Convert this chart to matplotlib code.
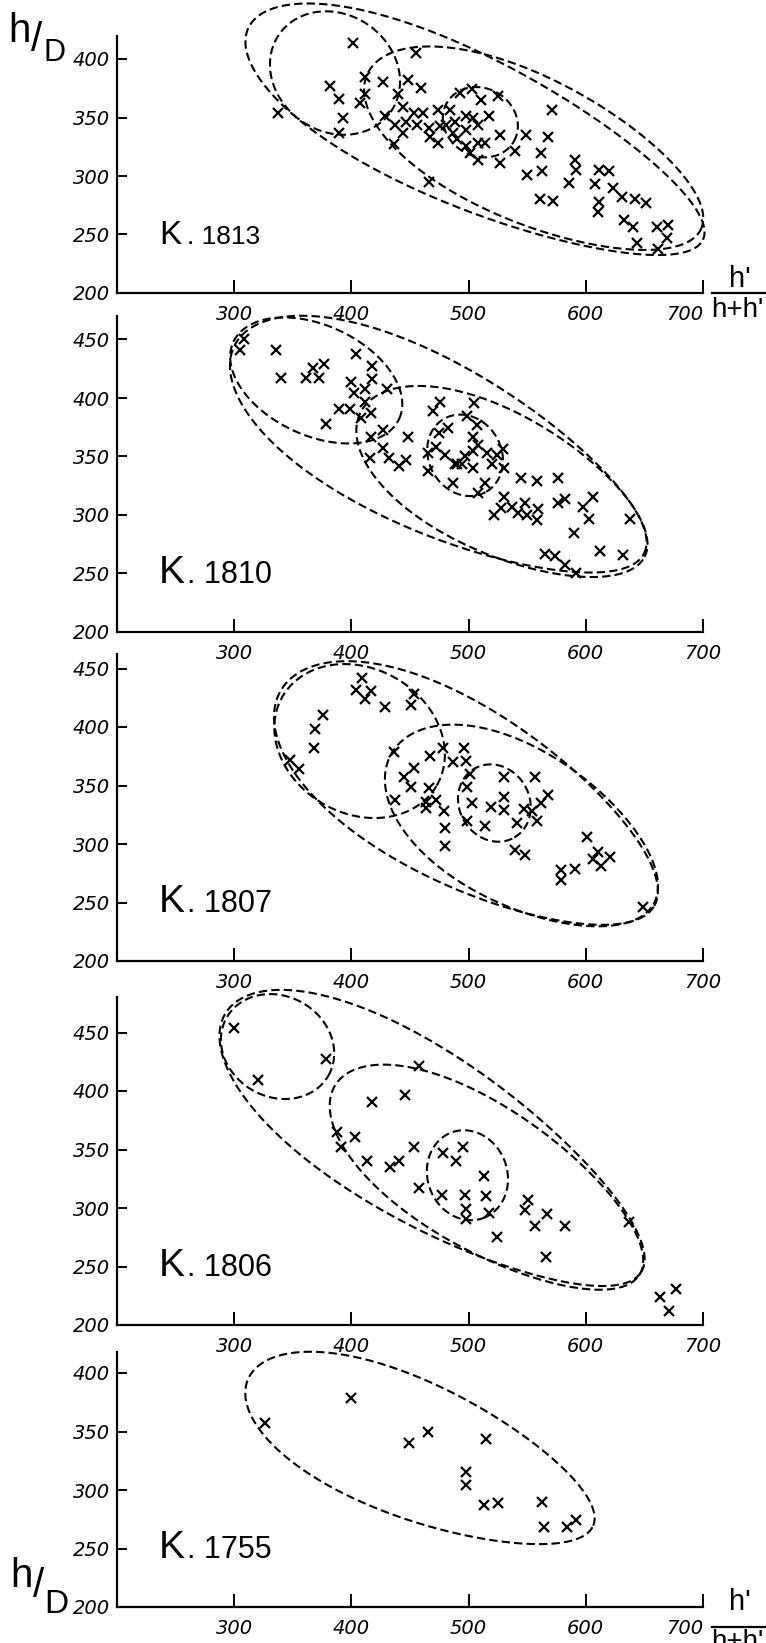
import numpy as np
import matplotlib
matplotlib.use("Agg")
import matplotlib.pyplot as plt
from matplotlib.lines import Line2D

# x = h'/(h+h') (x1000), y = h/D (x1000)
k1813_x = [401, 337, 382, 389, 393, 389, 412, 412, 407, 427, 440, 448, 444, 429, 437, 444, 436, 447, 453, 456, 455,
           459, 461, 466, 467, 474, 484, 476, 481, 488, 474, 487, 493, 503, 511, 525, 498, 504, 508, 517, 498, 490,
           498, 501, 508, 514, 508, 527, 527, 540, 549, 571, 568, 562, 550, 563, 591, 592, 586, 561, 572, 611, 620,
           608, 623, 631, 642, 651, 611, 610, 633, 640, 644, 661, 670, 669, 662, 466]
k1813_y = [414, 354, 377, 366, 350, 337, 385, 370, 362, 380, 370, 382, 359, 351, 344, 337, 327, 346, 354, 344, 405,
           375, 354, 341, 333, 356, 356, 343, 344, 346, 328, 337, 371, 374, 365, 368, 351, 350, 344, 351, 339, 332,
           326, 320, 328, 328, 314, 335, 311, 321, 335, 356, 333, 320, 301, 304, 314, 305, 294, 280, 279, 305, 304,
           293, 290, 282, 280, 277, 278, 269, 262, 256, 243, 256, 258, 247, 238, 295]

k1810_x = [308, 305, 336, 340, 367, 377, 361, 372, 404, 400, 402, 389, 399, 378, 418, 418, 412, 412, 408, 417, 430,
           417, 427, 427, 416, 432, 448, 447, 441, 470, 476, 475, 482, 472, 465, 465, 480, 488, 487,
           505, 499, 507, 504, 508, 490, 494, 497, 504, 504, 516, 524, 529, 520, 530, 514, 508, 545, 558, 576,
           530, 522, 528, 537, 542, 548, 550, 559, 558, 576, 582, 598, 606, 603, 590, 638, 612, 632, 565, 574,
           582, 592]
k1810_y = [450, 441, 441, 417, 426, 429, 417, 417, 438, 414, 404, 391, 391, 378, 427, 416, 408, 397, 383, 387, 408,
           367, 373, 357, 349, 349, 367, 347, 342, 389, 397, 370, 374, 358, 353, 338, 351, 344, 327,
           396, 385, 377, 367, 360, 344, 344, 350, 355, 340, 353, 351, 356, 344, 340, 327, 319, 332, 329, 332,
           315, 300, 306, 307, 302, 310, 300, 305, 296, 310, 314, 307, 315, 297, 285, 297, 269, 266, 267, 265,
           257, 250]

k1807_x = [409, 404, 417, 412, 429, 453, 451, 376, 369, 368, 348, 355, 436, 467, 478, 487, 445, 453, 451, 466, 437,
           464, 464, 472, 479, 480, 480, 496, 498, 501, 499, 503, 499, 514, 519, 530, 530, 530, 547, 557, 568,
           562, 554, 558, 541, 540, 548, 601, 610, 606, 621, 613, 591, 579, 579, 649]
k1807_y = [442, 432, 431, 424, 417, 428, 419, 410, 398, 382, 372, 364, 379, 375, 382, 370, 357, 365, 349, 348, 338,
           336, 331, 338, 328, 314, 298, 382, 371, 360, 349, 335, 320, 315, 332, 357, 340, 329, 330, 357, 342,
           335, 328, 320, 318, 295, 291, 306, 293, 287, 289, 281, 279, 278, 269, 246]

k1806_x = [300, 320, 378, 418, 446, 458, 388, 391, 403, 413, 433, 441, 453, 458, 477, 478, 489, 495, 513, 497, 515,
           498, 498, 517, 524, 551, 548, 567, 557, 582, 566, 637, 663, 677, 671]
k1806_y = [454, 409, 427, 391, 397, 421, 365, 352, 361, 340, 335, 340, 352, 317, 311, 347, 340, 352, 327, 311, 310,
           299, 291, 296, 275, 307, 298, 295, 285, 285, 258, 288, 224, 231, 212]

k1755_x = [400, 326, 449, 465, 515, 498, 498, 513, 525, 563, 564, 584, 592]
k1755_y = [379, 357, 340, 350, 344, 315, 304, 287, 289, 290, 268, 268, 274]

# dashed group outlines: centre x, centre y, half length, half width, angle, egg-ness
k1813_groups = [(386, 388, 58, 50, -35, 0.0), (506, 336, 214, 64, -25, 0.15),
                (556, 321, 157, 62, -25, 0.1), (510, 346, 33, 29, -30, 0.0)]
k1810_groups = [(370, 415, 78, 47, -25, 0.0), (475, 356, 196, 72, -27, 0.15),
                (529, 326, 136, 60, -27, 0.1), (497, 351, 36, 31, -60, 0.0)]
k1807_groups = [(407, 388, 76, 62, -30, 0.0), (499, 339, 184, 75, -30, 0.15),
                (546, 313, 129, 66, -30, 0.1), (522, 335, 34, 30, -60, 0.0)]
k1806_groups = [(337, 438, 50, 43, -30, 0.0), (470, 356, 209, 72, -32, 0.15),
                (516, 324, 153, 61, -32, 0.1), (499, 328, 39, 34, -70, 0.0)]
k1755_groups = [(459, 332, 160, 58, -23, 0.15)]

x_ticks = [300, 400, 500, 600, 700]
panels = [
    ("1813", k1813_x, k1813_y, k1813_groups, 420, [200, 250, 300, 350, 400]),
    ("1810", k1810_x, k1810_y, k1810_groups, 470, [200, 250, 300, 350, 400, 450]),
    ("1807", k1807_x, k1807_y, k1807_groups, 462, [200, 250, 300, 350, 400, 450]),
    ("1806", k1806_x, k1806_y, k1806_groups, 480, [200, 250, 300, 350, 400, 450]),
    ("1755", k1755_x, k1755_y, k1755_groups, 418, [200, 250, 300, 350, 400]),
]

LABEL_FONT = "Liberation Sans"
W, H = 766, 1643
bottoms = [293, 632, 961, 1325, 1607]   # pixel row of each x axis
LEFT, AXW, SCALE = 117, 586, 1.17

fig = plt.figure(figsize=(W / 100, H / 100), dpi=100)
fig.patch.set_facecolor("white")

for i, (name, xs, ys, groups, ytop, yt) in enumerate(panels):
    bot = bottoms[i]
    hpx = (ytop - 200) * SCALE
    ax = fig.add_axes([LEFT / W, 1 - bot / H, AXW / W, hpx / H])
    ax.patch.set_visible(False)   # keep tick labels of the panel above visible
    ax.set_xlim(200, 700)
    ax.set_ylim(200, ytop)
    for s in ["top", "right"]:
        ax.spines[s].set_visible(False)
    for s in ["left", "bottom"]:
        ax.spines[s].set_linewidth(1.6)
    ax.set_xticks(x_ticks)
    ax.set_yticks(yt)
    ax.tick_params(direction="in", width=1.4, labelsize=14)
    ax.tick_params(axis="x", length=9.5, pad=9)
    ax.tick_params(axis="y", length=7.5, pad=5)
    for lab in ax.get_xticklabels() + ax.get_yticklabels():
        lab.set_fontstyle("italic")
    if i in (0, 4):
        ax.xaxis.get_major_ticks()[-1].label1.set_horizontalalignment("right")

    ax.plot(xs, ys, "x", color="black", ms=6.5, mew=1.6, clip_on=False)

    t = np.linspace(0, 2 * np.pi, 400)
    for cx, cy, a, b, ang, k in groups:
        u = a * np.cos(t)
        v = b * np.sin(t) * (1 - k * np.cos(t))
        th = np.radians(ang)
        ax.plot(cx + u * np.cos(th) - v * np.sin(th), cy + u * np.sin(th) + v * np.cos(th),
                color="black", lw=1.5, ls=(0, (4, 2)), clip_on=False)

    small = i == 0
    ax.text(235.8, 242, "K", fontsize=24 if small else 28, family=LABEL_FONT, va="baseline")
    ax.text(259.7, 242, ". " + name, fontsize=19 if small else 22, family=LABEL_FONT, va="baseline")

# axis titles drawn in figure pixels
def ftext(x, y, s, **kw):
    fig.text(x / W, 1 - y / H, s, family=LABEL_FONT, **kw)

ftext(8, 42, "h", fontsize=29, va="baseline")
ftext(31, 51, "/", fontsize=29, va="baseline")
ftext(43, 61, "D", fontsize=22, va="baseline")
ftext(10, 1587, "h", fontsize=29, va="baseline")
ftext(33, 1597, "/", fontsize=29, va="baseline")
ftext(44, 1613, "D", fontsize=24, va="baseline")

for h_base, line_y, den_top in [(287, 293, 297), (1610, 1627, 1629)]:
    ftext(740, h_base, "h'", fontsize=21, ha="center", va="baseline")
    fig.add_artist(Line2D([712 / W, 766 / W], [1 - line_y / H] * 2, color="black", lw=1.6))
    ftext(737, den_top, "h+h'", fontsize=20, ha="center", va="top")

fig.savefig("out.png", dpi=100, facecolor="white")
